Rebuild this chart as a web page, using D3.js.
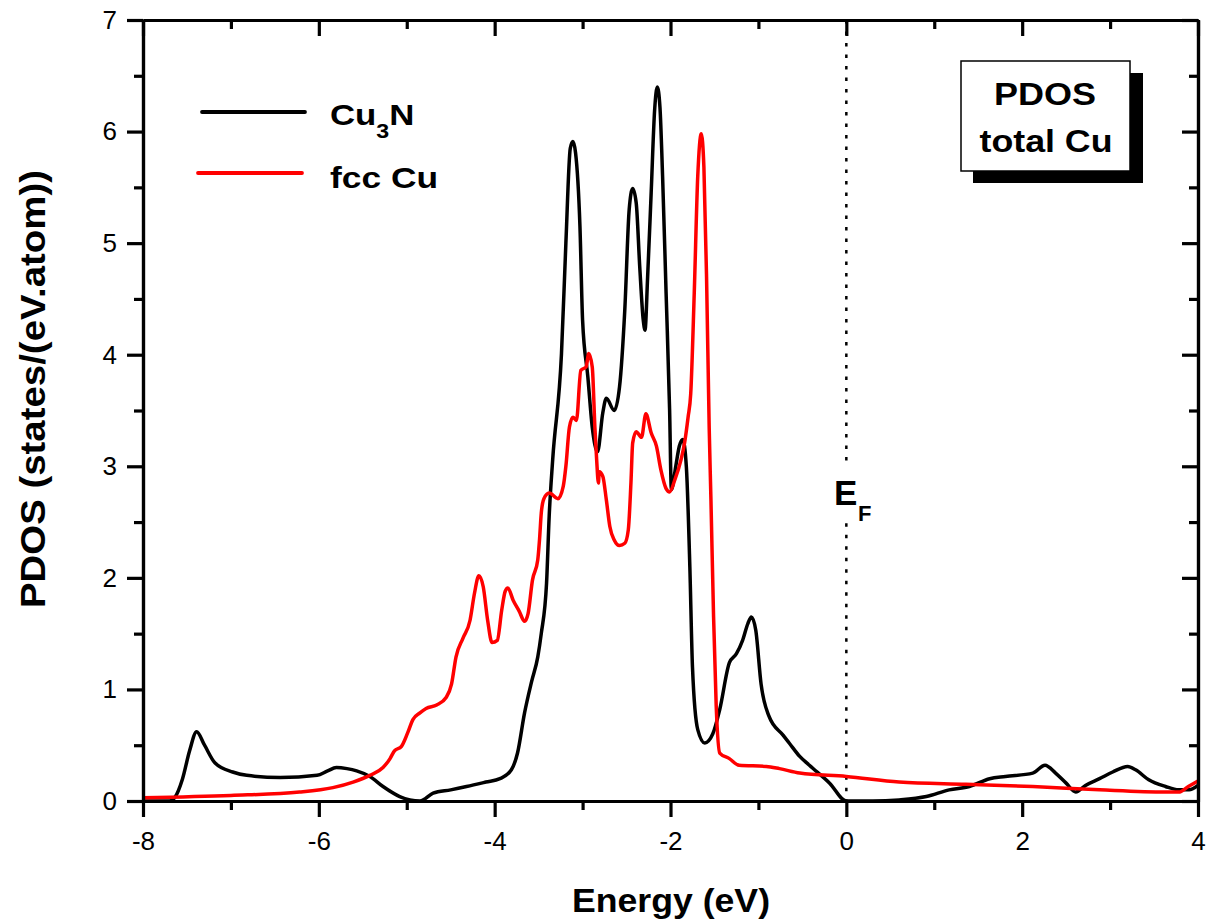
<!DOCTYPE html>
<html>
<head>
<meta charset="utf-8">
<script src="https://cdn.jsdelivr.net/npm/d3@7"></script>
<style>
  html, body { margin: 0; padding: 0; background: #fff; }
  svg { display: block; font-family: "Liberation Sans", Arial, Helvetica, sans-serif; }
</style>
</head>
<body>
<svg id="chart" width="1209" height="922"></svg>
<script>
// ---------------- DATA ----------------
const cu3nEnergy = [-8, -7.7, -7.64, -7.55, -7.47, -7.39, -7.3, -7.18, -6.98, -6.82, -6.44, -6.02, -5.9, -5.80, -5.68, -5.57, -5.42, -5.27, -5.08, -4.85, -4.70, -4.5, -4.32, -4.1, -3.94, -3.81, -3.74, -3.66, -3.58, -3.51, -3.47, -3.41, -3.38, -3.34, -3.24, -3.19, -3.14, -3.11, -3.08, -3.03, -3.0, -2.94, -2.89, -2.83, -2.77, -2.73, -2.64, -2.58, -2.52, -2.47, -2.43, -2.39, -2.35, -2.31, -2.29, -2.26, -2.22, -2.18, -2.15, -2.12, -2.09, -2.05, -2.01, -1.99, -1.94, -1.90, -1.86, -1.82, -1.78, -1.75, -1.69, -1.61, -1.52, -1.44, -1.33, -1.25, -1.18, -1.12, -1.08, -1.03, -0.97, -0.88, -0.72, -0.65, -0.53, -0.42, -0.19, 0, 0.3, 0.6, 0.91, 1.17, 1.40, 1.63, 1.81, 2.12, 2.26, 2.38, 2.50, 2.61, 2.72, 2.88, 3.03, 3.20, 3.29, 3.44, 3.63, 3.78, 3.9, 4.0];
const cu3nPdos   = [0, 0, 0.03, 0.2, 0.45, 0.62, 0.5, 0.34, 0.26, 0.23, 0.21, 0.23, 0.27, 0.30, 0.29, 0.27, 0.22, 0.13, 0.04, 0.0, 0.07, 0.10, 0.13, 0.17, 0.2, 0.28, 0.43, 0.79, 1.07, 1.29, 1.50, 1.95, 2.55, 3.06, 4.01, 5.0, 5.85, 5.91, 5.81, 5.15, 4.31, 3.80, 3.35, 3.13, 3.48, 3.61, 3.50, 3.71, 4.40, 5.30, 5.49, 5.36, 4.79, 4.31, 4.22, 4.70, 5.45, 6.20, 6.40, 6.22, 5.60, 4.55, 3.50, 2.79, 3.0, 3.18, 3.24, 3.0, 2.10, 1.20, 0.64, 0.52, 0.60, 0.82, 1.24, 1.32, 1.44, 1.59, 1.65, 1.53, 1.05, 0.76, 0.59, 0.52, 0.40, 0.32, 0.16, 0.0, 0.0, 0.01, 0.04, 0.10, 0.13, 0.20, 0.22, 0.25, 0.32, 0.25, 0.16, 0.08, 0.14, 0.20, 0.26, 0.31, 0.28, 0.19, 0.13, 0.10, 0.10, 0.14];

const fccEnergy = [-8, -7, -6.22, -5.84, -5.61, -5.42, -5.27, -5.19, -5.14, -5.06, -4.99, -4.93, -4.85, -4.78, -4.66, -4.55, -4.49, -4.44, -4.36, -4.28, -4.23, -4.18, -4.13, -4.08, -4.03, -3.97, -3.92, -3.88, -3.85, -3.79, -3.72, -3.66, -3.62, -3.57, -3.51, -3.49, -3.47, -3.44, -3.38, -3.28, -3.22, -3.19, -3.15, -3.11, -3.07, -3.02, -2.96, -2.93, -2.89, -2.86, -2.84, -2.82, -2.81, -2.77, -2.73, -2.69, -2.64, -2.58, -2.52, -2.48, -2.45, -2.43, -2.39, -2.33, -2.28, -2.22, -2.16, -2.11, -2.05, -2.01, -1.95, -1.88, -1.84, -1.80, -1.77, -1.73, -1.69, -1.65, -1.62, -1.59, -1.56, -1.54, -1.51, -1.48, -1.44, -1.33, -1.22, -0.91, -0.76, -0.53, 0, 0.6, 1.36, 2.12, 2.88, 3.63, 3.78, 3.89, 4.0];
const fccPdos   = [0.03, 0.05, 0.08, 0.12, 0.17, 0.23, 0.30, 0.38, 0.45, 0.49, 0.61, 0.73, 0.79, 0.83, 0.86, 0.93, 1.05, 1.29, 1.46, 1.62, 1.86, 2.02, 1.92, 1.62, 1.42, 1.44, 1.71, 1.88, 1.91, 1.80, 1.70, 1.61, 1.68, 1.98, 2.16, 2.34, 2.58, 2.71, 2.76, 2.71, 2.82, 3.0, 3.35, 3.44, 3.41, 3.86, 3.89, 4.01, 3.89, 3.35, 3.06, 2.85, 2.95, 2.91, 2.70, 2.46, 2.34, 2.29, 2.31, 2.43, 2.85, 3.21, 3.31, 3.26, 3.47, 3.30, 3.18, 2.97, 2.80, 2.77, 2.88, 3.06, 3.21, 3.44, 3.65, 4.55, 5.60, 5.98, 5.68, 4.70, 3.35, 2.70, 1.65, 0.85, 0.43, 0.38, 0.32, 0.31, 0.29, 0.25, 0.22, 0.17, 0.15, 0.13, 0.10, 0.08, 0.08, 0.13, 0.18];

const xMajorTicks = [-8, -6, -4, -2, 0, 2, 4];
const xMinorTicks = [-7, -5, -3, -1, 1, 3];
const yMajorTicks = [0, 1, 2, 3, 4, 5, 6, 7];
const yMinorTicks = [0.5, 1.5, 2.5, 3.5, 4.5, 5.5, 6.5];

const seriesNames = ["Cu3N", "fcc Cu"];
const seriesColors = ["#000000", "#ff0000"];
const fermiEnergy = 0;

// ---------------- LAYOUT ----------------
const svg = d3.select("#chart");
const L = 143, R = 1198, T = 20, B = 801;
const x = d3.scaleLinear().domain([-8, 4]).range([L, R]);
const y = d3.scaleLinear().domain([0, 7]).range([B, T]);

svg.append("defs").append("clipPath").attr("id", "plotclip")
  .append("rect").attr("x", L).attr("y", T).attr("width", R - L).attr("height", B - T);

// Fermi level dotted line (with gap for label)
const efG = svg.append("g");
[[7, 3.03], [2.49, 0]].forEach(([a, b]) => {
  efG.append("line")
    .attr("x1", x(fermiEnergy)).attr("x2", x(fermiEnergy))
    .attr("y1", y(a)).attr("y2", y(b))
    .attr("stroke", "#000").attr("stroke-width", 2.5)
    .attr("stroke-dasharray", "3.5,8");
});

// series lines
const line = d3.line().x(d => x(d[0])).y(d => y(d[1])).curve(d3.curveMonotoneX);
const cu3nData = cu3nEnergy.map((e, i) => [e, cu3nPdos[i]]);
const fccData = fccEnergy.map((e, i) => [e, fccPdos[i]]);
const plotG = svg.append("g").attr("clip-path", "url(#plotclip)");
plotG.append("path").datum(cu3nData).attr("d", line)
  .attr("fill", "none").attr("stroke", seriesColors[0]).attr("stroke-width", 3.5)
  .attr("stroke-linejoin", "round");
plotG.append("path").datum(fccData).attr("d", line)
  .attr("fill", "none").attr("stroke", seriesColors[1]).attr("stroke-width", 3.5)
  .attr("stroke-linejoin", "round");

// ---------------- AXES ----------------
function styleAxis(g) {
  g.select(".domain").attr("stroke-width", 3.2).attr("stroke", "#000");
  g.selectAll(".tick line").attr("stroke-width", 3.2).attr("stroke", "#000");
  g.selectAll(".tick text").attr("fill", "#000").style("font-size", "26px")
    .style("font-family", '"Liberation Sans", Arial, sans-serif');
}
const fmt = d => String(d);

// bottom
svg.append("g").attr("transform", `translate(0,${B})`)
  .call(d3.axisBottom(x).tickValues(xMinorTicks).tickSize(9).tickSizeOuter(0).tickFormat(""))
  .call(styleAxis);
svg.append("g").attr("transform", `translate(0,${B})`)
  .call(d3.axisBottom(x).tickValues(xMajorTicks).tickSize(16).tickPadding(15).tickSizeOuter(0).tickFormat(fmt))
  .call(styleAxis);
// top
svg.append("g").attr("transform", `translate(0,${T})`)
  .call(d3.axisTop(x).tickValues(xMinorTicks).tickSize(-9).tickSizeOuter(0).tickFormat(""))
  .call(styleAxis);
svg.append("g").attr("transform", `translate(0,${T})`)
  .call(d3.axisTop(x).tickValues(xMajorTicks).tickSize(-16).tickSizeOuter(0).tickFormat(""))
  .call(styleAxis);
// left
svg.append("g").attr("transform", `translate(${L},0)`)
  .call(d3.axisLeft(y).tickValues(yMinorTicks).tickSize(9).tickSizeOuter(0).tickFormat(""))
  .call(styleAxis);
svg.append("g").attr("transform", `translate(${L},0)`)
  .call(d3.axisLeft(y).tickValues(yMajorTicks).tickSize(16).tickPadding(10).tickSizeOuter(0).tickFormat(fmt))
  .call(styleAxis);
// right
svg.append("g").attr("transform", `translate(${R},0)`)
  .call(d3.axisRight(y).tickValues(yMinorTicks).tickSize(-9).tickSizeOuter(0).tickFormat(""))
  .call(styleAxis);
svg.append("g").attr("transform", `translate(${R},0)`)
  .call(d3.axisRight(y).tickValues(yMajorTicks).tickSize(-16).tickSizeOuter(0).tickFormat(""))
  .call(styleAxis);

// ---------------- TITLES ----------------
svg.append("text")
  .attr("x", 671).attr("y", 912)
  .attr("text-anchor", "middle")
  .attr("font-size", 33).attr("font-weight", "bold")
  .attr("textLength", 198).attr("lengthAdjust", "spacingAndGlyphs")
  .text("Energy (eV)");

svg.append("text")
  .attr("transform", "translate(45,389) rotate(-90)")
  .attr("text-anchor", "middle")
  .attr("font-size", 35).attr("font-weight", "bold")
  .attr("textLength", 438).attr("lengthAdjust", "spacingAndGlyphs")
  .text("PDOS (states/(eV.atom))");

// E_F label
const ef = svg.append("text").attr("x", 834).attr("y", 505)
  .attr("font-weight", "bold").attr("font-size", 35);
ef.append("tspan").text("E");
ef.append("tspan").attr("x", 858).attr("y", 521).attr("font-size", 22).text("F");

// ---------------- LEGEND ----------------
const leg = svg.append("g");
leg.append("line").attr("x1", 202).attr("x2", 305).attr("y1", 112).attr("y2", 112)
  .attr("stroke", seriesColors[0]).attr("stroke-width", 3.8).attr("stroke-linecap", "round");
leg.append("line").attr("x1", 198).attr("x2", 302).attr("y1", 173).attr("y2", 173)
  .attr("stroke", seriesColors[1]).attr("stroke-width", 3.8).attr("stroke-linecap", "round");

const t1 = leg.append("text").attr("transform", "translate(330,125) scale(1.16,1)")
  .attr("font-weight", "bold").attr("font-size", 30);
t1.append("tspan").text("Cu");
t1.append("tspan").attr("font-size", 20).attr("dy", 13).text("3");
t1.append("tspan").attr("dy", -13).text("N");

leg.append("text").attr("x", 330).attr("y", 188)
  .attr("font-weight", "bold").attr("font-size", 30)
  .attr("textLength", 108).attr("lengthAdjust", "spacingAndGlyphs")
  .text(seriesNames[1]);

// Annotation box with shadow
const box = svg.append("g");
box.append("rect").attr("x", 973).attr("y", 73).attr("width", 170).attr("height", 110).attr("fill", "#000");
box.append("rect").attr("x", 961).attr("y", 61).attr("width", 169).attr("height", 110)
  .attr("fill", "#fff").attr("stroke", "#000").attr("stroke-width", 1.5);
box.append("text").attr("x", 1045).attr("y", 105).attr("text-anchor", "middle")
  .attr("font-weight", "bold").attr("font-size", 32)
  .attr("textLength", 102).attr("lengthAdjust", "spacingAndGlyphs").text("PDOS");
box.append("text").attr("x", 1046).attr("y", 152).attr("text-anchor", "middle")
  .attr("font-weight", "bold").attr("font-size", 32)
  .attr("textLength", 133).attr("lengthAdjust", "spacingAndGlyphs").text("total Cu");
</script>
</body>
</html>
